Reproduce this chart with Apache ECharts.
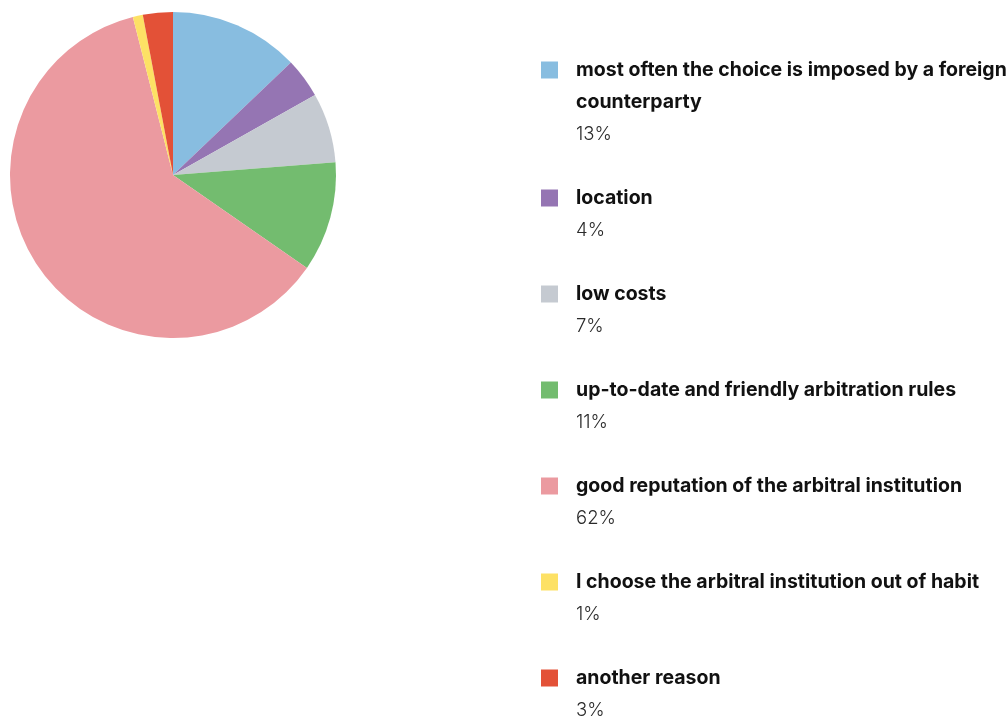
<!DOCTYPE html>
<html>
<head>
<meta charset="utf-8">
<script src="https://cdn.jsdelivr.net/npm/echarts@6/dist/echarts.min.js"></script>
<style>
  html, body { margin: 0; padding: 0; background: #ffffff; }
  #chart { width: 1007px; height: 718px; }
</style>
</head>
<body>
<div id="chart"></div>
<script>
// Reasons for choosing an arbitral institution (share of answers, %)
const categories = [
  'most often the choice is imposed by a foreign counterparty',
  'location',
  'low costs',
  'up-to-date and friendly arbitration rules',
  'good reputation of the arbitral institution',
  'I choose the arbitral institution out of habit',
  'another reason'
];
const shares = [13, 4, 7, 11, 62, 1, 3];
const colors = ['#88bde0', '#9575b3', '#c5cad1', '#73bc6f', '#eb9aa0', '#fde165', '#e35137'];

const FONT = 'Inter';
const NAME_SIZE = 19.5;
const PCT_SIZE = 18.5;
const LINE = 32;
const TEXT_WIDTH = 440;

// word-wrap legend names to the available width
const ctx = document.createElement('canvas').getContext('2d');
ctx.font = 'bold ' + NAME_SIZE + 'px ' + FONT;
function wrap(text) {
  const words = text.split(' ');
  const lines = [];
  let cur = '';
  words.forEach(function (w) {
    const t = cur ? cur + ' ' + w : w;
    if (cur && ctx.measureText(t).width > TEXT_WIDTH) {
      lines.push(cur);
      cur = w;
    } else {
      cur = t;
    }
  });
  lines.push(cur);
  return lines;
}

// top padding keeps the swatch level with the first text line
const legendData = categories.map(function (name) {
  const n = wrap(name).length;
  return { name: name, textStyle: { padding: [LINE * n, 0, 0, 13] } };
});

const chart = echarts.init(document.getElementById('chart'), null, { renderer: 'canvas' });
chart.setOption({
  animation: false,
  backgroundColor: '#ffffff',
  legend: {
    orient: 'vertical',
    left: 541,
    top: -10,
    padding: 0,
    itemGap: 0,
    itemWidth: 17,
    itemHeight: 17,
    icon: 'rect',
    selectedMode: false,
    data: legendData,
    formatter: function (name) {
      const i = categories.indexOf(name);
      return wrap(name).map(function (l) { return '{n|' + l + '}'; }).join('\n') +
        '\n{p|' + shares[i] + '%}';
    },
    textStyle: {
      fontFamily: FONT,
      lineHeight: LINE,
      rich: {
        n: { fontFamily: FONT, fontWeight: 'bold', fontSize: NAME_SIZE, lineHeight: LINE, color: '#111111' },
        p: { fontFamily: FONT, fontWeight: 300, fontSize: PCT_SIZE, lineHeight: LINE, color: '#2a2a2a' }
      }
    }
  },
  series: [{
    type: 'pie',
    center: [173, 175],
    radius: 163,
    startAngle: 90,
    clockwise: true,
    silent: true,
    label: { show: false },
    labelLine: { show: false },
    itemStyle: { borderWidth: 0 },
    data: categories.map(function (name, i) {
      return { name: name, value: shares[i], itemStyle: { color: colors[i] } };
    })
  }]
});
</script>
</body>
</html>
